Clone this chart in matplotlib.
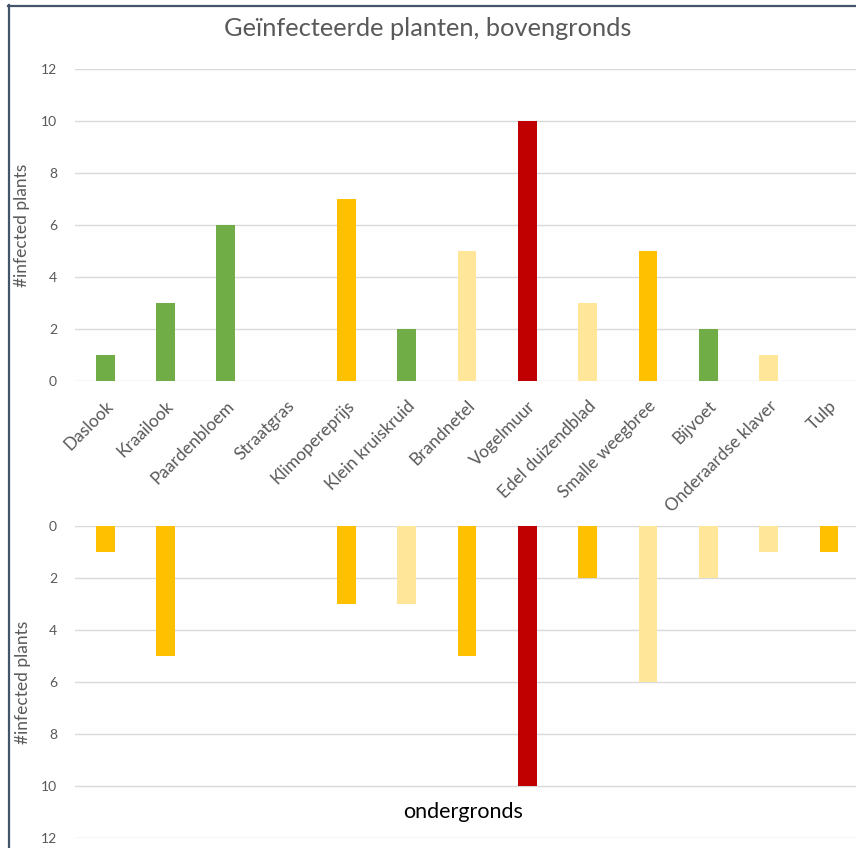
import matplotlib
matplotlib.use("Agg")
import matplotlib.pyplot as plt
from matplotlib.lines import Line2D
from matplotlib.transforms import ScaledTranslation

plt.rcParams['font.family'] = ['Lato', 'DejaVu Sans']

categories = ["Daslook", "Kraailook", "Paardenbloem", "Straatgras", "Klimopereprijs",
              "Klein kruiskruid", "Brandnetel", "Vogelmuur", "Edel duizendblad",
              "Smalle weegbree", "Bijvoet", "Onderaardse klaver", "Tulp"]
above_values = [1, 3, 6, 0, 7, 2, 5, 10, 3, 5, 2, 1, 0]
above_colors = ["#70AD47", "#70AD47", "#70AD47", "#70AD47", "#FFC000", "#70AD47",
                "#FFE699", "#C00000", "#FFE699", "#FFC000", "#70AD47", "#FFE699", "#FFC000"]
below_values = [1, 5, 0, 0, 3, 3, 5, 10, 2, 6, 2, 1, 1]
below_colors = ["#FFC000", "#FFC000", "#FFC000", "#FFC000", "#FFC000", "#FFE699",
                "#FFC000", "#C00000", "#FFC000", "#FFE699", "#FFE699", "#FFE699", "#FFC000"]
yticks = [0, 2, 4, 6, 8, 10, 12]

W, H = 856, 848
fig = plt.figure(figsize=(W / 100, H / 100), dpi=100)
fig.patch.set_facecolor("white")

left = 75 / W
width = (W - 75) / W
ax1 = fig.add_axes([left, 1 - 381 / H, width, (381 - 69) / H])
ax2 = fig.add_axes([left, 1 - 838 / H, width, (838 - 526) / H])

x = list(range(len(categories)))
grid_c = "#D9D9D9"
text_c = "#595959"

for ax in (ax1, ax2):
    for s in ax.spines.values():
        s.set_visible(False)
    ax.set_ylim(0, 12)
    ax.set_yticks(yticks)
    ax.set_xlim(-0.5, 12.45)
    ax.grid(axis="y", color=grid_c, linewidth=1.0)
    ax.set_axisbelow(True)
    ax.tick_params(axis="y", length=0, pad=13, labelsize=10, labelcolor=text_c)
    ax.set_ylabel("#infected plants", fontsize=12.5, color=text_c)

ax1.yaxis.set_label_coords((30 - 75) / 781, 0.5)
ax2.yaxis.set_label_coords((31 - 75) / 781, 0.5)

ax1.bar(x, above_values, width=0.31, color=above_colors, zorder=3)
ax1.set_xticks(x)
ax1.set_xticklabels(categories, rotation=45, ha="right", rotation_mode="anchor",
                    fontsize=12.5, color=text_c)
ax1.tick_params(axis="x", length=0, pad=12)
offset = ScaledTranslation(0 / 100, 0, fig.dpi_scale_trans)
for lab in ax1.get_xticklabels():
    lab.set_transform(lab.get_transform() + offset)

fig.text(0.5, 1 - 29 / H, "Geïnfecteerde planten, bovengronds", fontsize=18.3,
         color=text_c, ha="center", va="center")

ax2.bar(x, below_values, width=0.31, color=below_colors, zorder=3)
ax2.invert_yaxis()
ax2.set_xticks([])
fig.text(463 / W, 1 - 812 / H, "ondergronds", fontsize=15.5, color="black",
         ha="center", va="center")

border_c = "#44546A"
fig.add_artist(Line2D([8.5 / W, 8.5 / W], [0, 1 - 5 / H], color=border_c, linewidth=1.6,
                      transform=fig.transFigure))
fig.add_artist(Line2D([8 / W, 1], [1 - 6 / H, 1 - 6 / H], color=border_c, linewidth=1.6,
                      transform=fig.transFigure))

fig.savefig("out.png", dpi=100)
